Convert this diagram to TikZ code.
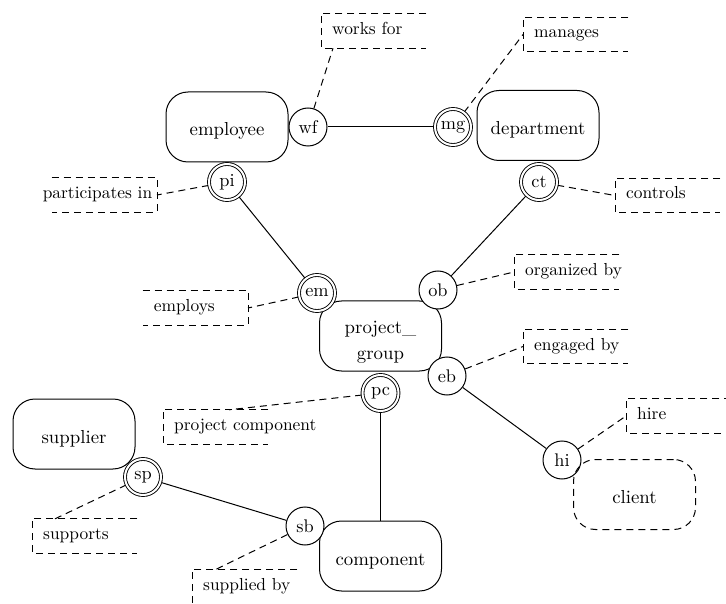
\documentclass[tikz,border=0pt]{standalone}
\usepackage{fontspec}
\setmainfont{lmroman10-regular.otf}
\usetikzlibrary{backgrounds}

\tikzset{
  entity/.style={draw, line width=1pt, rounded corners=22pt,
    minimum width=122pt, minimum height=70pt, inner sep=0pt,
    font=\fontsize{18.8}{25}\selectfont, text height=21pt, text depth=3pt},
  role/.style={circle, draw, fill=white, line width=1pt, minimum size=38pt,
    inner sep=0pt, font=\fontsize{18.3}{23}\selectfont},
  keyrole/.style={role, minimum size=36pt, double=white,
    double distance=2pt, line width=0.9pt},
  link/.style={line width=1pt},
  dashline/.style={line width=1pt, dash pattern=on 7pt off 5pt},
  notebox/.style={minimum width=105pt, minimum height=34pt, inner sep=0pt},
  notetext/.style={inner sep=0pt, font=\fontsize{17.4}{22}\selectfont},
}

% note open on its right side: name, west point, text
\newcommand\noteR[3]{%
  \node[notebox, anchor=west] (#1) at (#2) {};
  \node[notetext, anchor=base west] (#1-t) at ([xshift=11pt,yshift=-3.5pt]#1.west) {#3};
  \draw[dashline] (#1.north east) -- (#1.north west) -- (#1.south west) -- (#1.south east);
}
% note open on its left side: name, east point, text offset from west, text
\newcommand\noteL[4]{%
  \node[notebox, anchor=east] (#1) at (#2) {};
  \node[notetext, anchor=base west] (#1-t) at ([xshift=#3,yshift=-3.5pt]#1.west) {#4};
  \draw[dashline] (#1.north west) -- (#1.north east) -- (#1.south east) -- (#1.south west);
}

\begin{document}
\begin{tikzpicture}[x=1pt, y=-1pt]
\useasboundingbox (0,0) rectangle (726,604);

% entity types
\node[entity] (employee) at (227,127) {employee};
\node[entity] (department) at (538,125.5) {department};
\node[entity, align=center, text height=46pt, text depth=0pt] (group) at (380.5,336) {project\_\\group};
\node[entity] (supplier) at (74,434) {supplier};
\node[entity] (component) at (380.5,556) {component};

% roles
\node[role] (wf) at (308,127) {wf};
\node[keyrole] (mg) at (453,127) {mg};
\node[keyrole] (pi) at (227,182) {pi};
\node[keyrole] (ct) at (539,182) {ct};
\node[keyrole] (em) at (317,293) {em};
\node[role] (ob) at (438,290) {ob};
\node[role] (eb) at (447,376) {eb};
\node[keyrole] (pc) at (380.5,393) {pc};
\node[keyrole] (sp) at (143,477) {sp};
\node[role] (sb) at (305,526) {sb};
\node[role] (hi) at (562,460) {hi};

% external entity type
\node[entity, dash pattern=on 7pt off 5pt] (client) at (634.5,494.5) {client};

% role notes
\noteR{lwf}{321,31}{works for}
\noteR{lmg}{523,34.5}{manages}
\noteR{lct}{615,195.5}{controls}
\noteL{lpi}{157,195}{-9pt}{participates in}
\noteL{lem}{248,308}{11pt}{employs}
\noteR{lob}{514,272}{organized by}
\noteR{leb}{523,346.5}{engaged by}
\noteR{lpc}{163,427}{project component}
\noteR{lsp}{32,536}{supports}
\noteR{lsb}{192,587}{supplied by}
\noteR{lhi}{626,416}{hire}

\begin{scope}[on background layer]
  % fact connectors
  \draw[link] (wf) -- (mg);
  \draw[link] (pi) -- (em);
  \draw[link] (ct) -- (ob);
  \draw[link] (eb) -- (hi);
  \draw[link] (pc) -- (component);
  \draw[link] (sp) -- (sb);
  % note leaders
  \draw[dashline] (wf) -- ([xshift=12pt]lwf.south west);
  \draw[dashline] (mg) -- (lmg.west);
  \draw[dashline] (ct) -- (lct.west);
  \draw[dashline] (pi) -- (lpi.east);
  \draw[dashline] (em) -- (lem.east);
  \draw[dashline] (ob) -- (lob.west);
  \draw[dashline] (eb) -- (leb.west);
  \draw[dashline] (pc) -- ([xshift=66pt]lpc.north west);
  \draw[dashline] (sp) -- ([xshift=23pt]lsp.north west);
  \draw[dashline] (sb) -- ([xshift=23pt]lsb.north west);
  \draw[dashline] (hi) -- (lhi.west);
\end{scope}
\end{tikzpicture}
\end{document}
